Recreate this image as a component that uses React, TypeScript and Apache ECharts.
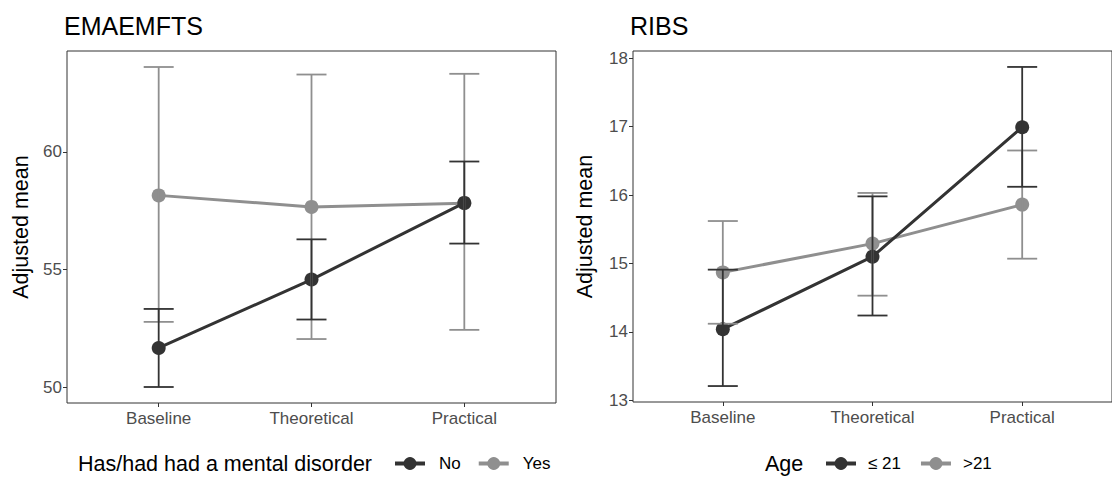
import React, { useEffect, useRef } from "react";
import * as echarts from "echarts";

const categories = ["Baseline", "Theoretical", "Practical"];
const yTicksLeft = [50, 55, 60];
const yTicksRight = [13, 14, 15, 16, 17, 18];

// EMAEMFTS panel (Has/had had a mental disorder)
const noMean = [51.66, 54.57, 57.83];
const noLower = [50.0, 52.87, 56.1];
const noUpper = [53.32, 56.28, 59.59];
const yesMean = [58.15, 57.66, 57.82];
const yesLower = [52.77, 52.04, 52.43];
const yesUpper = [63.61, 63.29, 63.32];

// RIBS panel (Age)
const le21Mean = [14.04, 15.1, 16.99];
const le21Lower = [13.21, 14.24, 16.12];
const le21Upper = [14.91, 15.98, 17.87];
const gt21Mean = [14.87, 15.29, 15.86];
const gt21Lower = [14.12, 14.53, 15.07];
const gt21Upper = [15.62, 16.03, 16.65];

const DARK = "#333333";
const GREY = "#8f8f8f";
const FONT = "'Liberation Sans', Arial, sans-serif";

function expandRange(lo: number[], hi: number[]) {
  const mn = Math.min(...lo);
  const mx = Math.max(...hi);
  const pad = (mx - mn) * 0.05;
  return [mn - pad, mx + pad];
}

function pts(vals: number[]) {
  return vals.map((v, i) => [i + 1, v]);
}
function bars(lo: number[], hi: number[]) {
  return lo.map((v, i) => [i + 1, v, hi[i]]);
}

function errorSeries(name: string, data: number[][], color: string, idx: number) {
  return {
    type: "custom",
    name: name + "_err",
    xAxisIndex: idx,
    yAxisIndex: idx,
    z: 5,
    silent: true,
    encode: { x: 0, y: [1, 2] },
    data,
    renderItem: (params: any, api: any) => {
      const x = api.value(0);
      const lo = api.coord([x, api.value(1)]);
      const hi = api.coord([x, api.value(2)]);
      const hw = 15;
      const style = { stroke: color, lineWidth: 1.8 };
      return {
        type: "group",
        children: [
          { type: "line", shape: { x1: lo[0], y1: lo[1], x2: hi[0], y2: hi[1] }, style },
          { type: "line", shape: { x1: lo[0] - hw, y1: lo[1], x2: lo[0] + hw, y2: lo[1] }, style },
          { type: "line", shape: { x1: hi[0] - hw, y1: hi[1], x2: hi[0] + hw, y2: hi[1] }, style },
        ],
      };
    },
  };
}

function lineSeries(name: string, vals: number[], color: string, idx: number, z: number) {
  return {
    type: "line",
    name,
    xAxisIndex: idx,
    yAxisIndex: idx,
    data: pts(vals),
    z,
    symbol: "circle",
    symbolSize: 14,
    itemStyle: { color },
    lineStyle: { color, width: 3 },
  };
}

function xAxisDef(idx: number) {
  return {
    type: "value",
    gridIndex: idx,
    min: 0.4,
    max: 3.6,
    axisLine: { show: false },
    splitLine: { show: false },
    axisTick: { show: true, length: 4, customValues: [1, 2, 3], lineStyle: { color: DARK, width: 1 } },
    axisLabel: {
      customValues: [1, 2, 3],
      formatter: (v: number) => categories[Math.round(v) - 1] || "",
      color: "#4d4d4d",
      fontSize: 17,
      fontFamily: FONT,
      margin: 7,
    },
  };
}

function yAxisDef(idx: number, range: number[], ticks: number[], gap: number) {
  return {
    type: "value",
    gridIndex: idx,
    min: range[0],
    max: range[1],
    name: "Adjusted mean",
    nameLocation: "middle",
    nameGap: gap,
    nameRotate: 90,
    nameTextStyle: { color: "#000", fontSize: 21.5, fontFamily: FONT },
    axisLine: { show: false },
    splitLine: { show: false },
    axisTick: { show: true, length: 4, customValues: ticks, lineStyle: { color: DARK, width: 1 } },
    axisLabel: {
      customValues: ticks,
      color: "#4d4d4d",
      fontSize: 17,
      fontFamily: FONT,
      margin: 5,
    },
  };
}

function legendDef(names: string[], left: number, gap: number, textPad: number) {
  return {
    data: names,
    left,
    top: 455,
    padding: 0,
    itemWidth: 30,
    itemHeight: 16,
    itemGap: gap,
    selectedMode: false,
    lineStyle: { width: 4 },
    textStyle: { color: "#000", fontSize: 17, fontFamily: FONT, padding: [0, 0, 0, textPad] },
  };
}

export default function App() {
  const ref = useRef<HTMLDivElement>(null);
  useEffect(() => {
    if (!ref.current) return;
    const chart = echarts.init(ref.current, undefined, { renderer: "svg" });
    const leftRange = expandRange([...noLower, ...yesLower], [...noUpper, ...yesUpper]);
    const rightRange = expandRange([...le21Lower, ...gt21Lower], [...le21Upper, ...gt21Upper]);
    chart.setOption({
      animation: false,
      backgroundColor: "#ffffff",
      title: [
        { text: "EMAEMFTS", left: 64, top: 13, padding: 0, textStyle: { fontSize: 25, fontWeight: "normal", color: "#000", fontFamily: FONT } },
        { text: "RIBS", left: 630, top: 13, padding: 0, textStyle: { fontSize: 25, fontWeight: "normal", color: "#000", fontFamily: FONT } },
      ],
      grid: [
        { left: 67, top: 51, width: 489, height: 352, show: true, borderColor: "#333333", borderWidth: 1, backgroundColor: "transparent" },
        { left: 633, top: 51, width: 489, height: 351, show: true, borderColor: "#333333", borderWidth: 1, backgroundColor: "transparent" },
      ],
      xAxis: [xAxisDef(0), xAxisDef(1)],
      yAxis: [yAxisDef(0, leftRange, yTicksLeft, 35), yAxisDef(1, rightRange, yTicksRight, 37)],
      legend: [
        legendDef(["No", "Yes"], 393, 16, 9),
        legendDef(["≤ 21", ">21"], 824, 18, 7),
      ],
      graphic: [
        { type: "text", left: 78, top: 453, style: { text: "Has/had had a mental disorder", fill: "#000", fontSize: 21.5, fontFamily: FONT } },
        { type: "text", left: 765, top: 453, style: { text: "Age", fill: "#000", fontSize: 21.5, fontFamily: FONT } },
      ],
      series: [
        lineSeries("Yes", yesMean, GREY, 0, 2),
        lineSeries("No", noMean, DARK, 0, 3),
        errorSeries("Yes", bars(yesLower, yesUpper), GREY, 0),
        errorSeries("No", bars(noLower, noUpper), DARK, 0),
        lineSeries(">21", gt21Mean, GREY, 1, 2),
        lineSeries("≤ 21", le21Mean, DARK, 1, 3),
        errorSeries(">21", bars(gt21Lower, gt21Upper), GREY, 1),
        errorSeries("≤ 21", bars(le21Lower, le21Upper), DARK, 1),
      ],
    });
    return () => chart.dispose();
  }, []);
  return (
    <div
      ref={ref}
      style={{ position: "absolute", left: 0, top: 0, width: 1112, height: 477, background: "#fff" }}
    />
  );
}
